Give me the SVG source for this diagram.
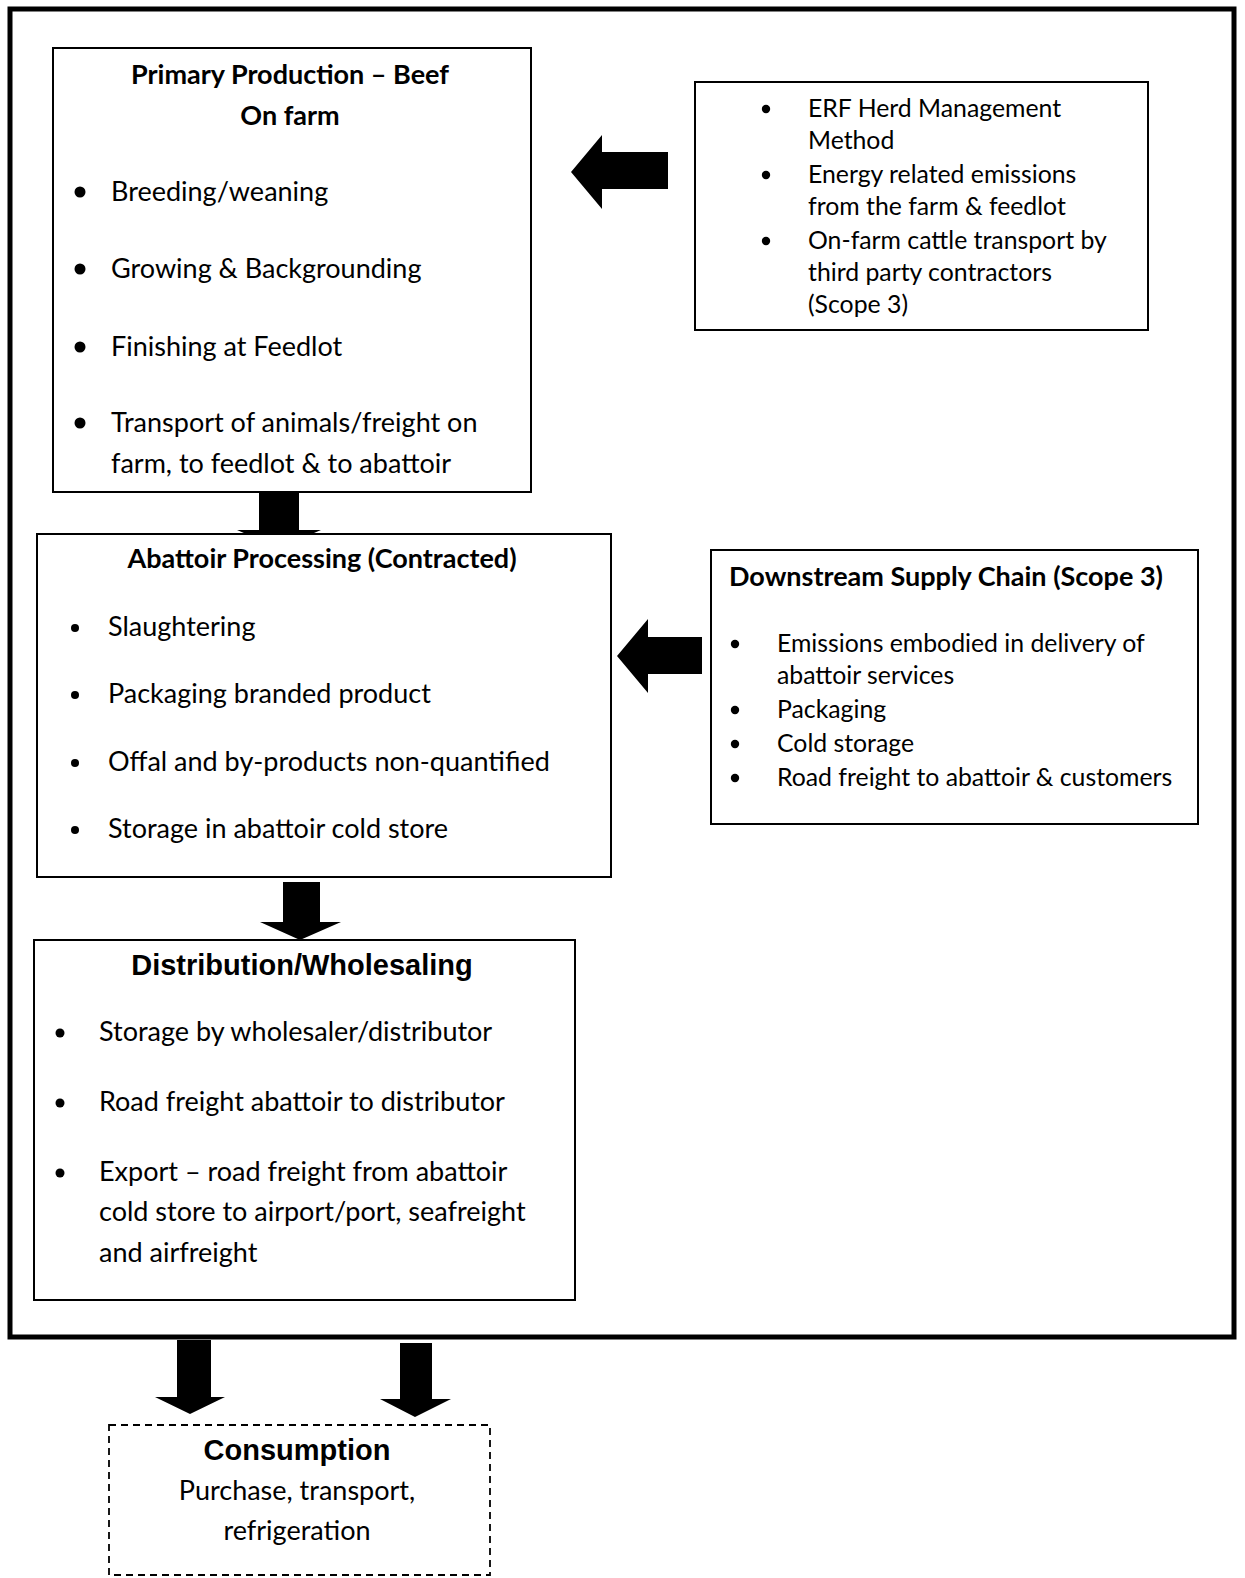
<svg xmlns="http://www.w3.org/2000/svg" width="1245" height="1578" viewBox="0 0 1245 1578">
<style>
.box{fill:#fff;stroke:#000;stroke-width:2}
.frame{fill:none;stroke:#000;stroke-width:5}
.dash{fill:#fff;stroke:#000;stroke-width:1.8;stroke-dasharray:7 5}
.t{font-family:Lato,"Liberation Sans",sans-serif;font-size:27px;fill:#000}
.h{font-family:Lato,"Liberation Sans",sans-serif;font-size:27px;font-weight:bold;fill:#000}
.ha{font-family:"Liberation Sans",Arial,sans-serif;font-size:29px;font-weight:bold;fill:#000}
.s{font-family:Lato,"Liberation Sans",sans-serif;font-size:24.8px;fill:#000}
.arrow{fill:#000;stroke:none}
</style>
<rect width="1245" height="1578" fill="#fff"/>
<rect class="frame" x="10" y="9" width="1224" height="1328"/>

<g id="connectors">
<polygon class="arrow" points="571,172 602,135 602,152 668,152 668,189 602,189 602,209"/>
<polygon class="arrow" points="617,656 648,619 648,637 702,637 702,674 648,674 648,693"/>
<polygon class="arrow" points="259,492 299,492 299,530 321,530 279,548 237,530 259,530"/>
<polygon class="arrow" points="283,882 320,882 320,922 341,922 300,940 260,922 283,922"/>
<polygon class="arrow" points="177,1340 211,1340 211,1397 225,1397 190,1414 155,1397 177,1397"/>
<polygon class="arrow" points="400,1343 432,1343 432,1399 451,1399 415,1417 380,1399 400,1399"/>
</g>

<g id="primary">
<rect class="box" x="53" y="48" width="478" height="444"/>
<text class="h" x="290" y="84" text-anchor="middle">Primary Production – Beef</text>
<text class="h" x="290" y="125" text-anchor="middle">On farm</text>
<circle cx="80" cy="192" r="5.5"/><text class="t" x="111" y="201">Breeding/weaning</text>
<circle cx="80" cy="269" r="5.5"/><text class="t" x="111" y="278">Growing &amp; Backgrounding</text>
<circle cx="80" cy="347" r="5.5"/><text class="t" x="111" y="356">Finishing at Feedlot</text>
<circle cx="80" cy="423" r="5.5"/><text class="t" x="111" y="432">Transport of animals/freight on</text>
<text class="t" x="111" y="473">farm, to feedlot &amp; to abattoir</text>
</g>

<g id="erf">
<rect class="box" x="695" y="82" width="453" height="248"/>
<circle cx="766" cy="109" r="4.2"/><text class="s" x="808" y="117">ERF Herd Management</text>
<text class="s" x="808" y="149">Method</text>
<circle cx="766" cy="175" r="4.2"/><text class="s" x="808" y="183">Energy related emissions</text>
<text class="s" x="808" y="215">from the farm &amp; feedlot</text>
<circle cx="766" cy="241" r="4.2"/><text class="s" x="808" y="249">On-farm cattle transport by</text>
<text class="s" x="808" y="281">third party contractors</text>
<text class="s" x="808" y="313">(Scope 3)</text>
</g>

<g id="abattoir">
<rect class="box" x="37" y="534" width="574" height="343"/>
<text class="h" x="322" y="568" text-anchor="middle">Abattoir Processing (Contracted)</text>
<circle cx="75" cy="628" r="4"/><text class="t" x="108" y="636">Slaughtering</text>
<circle cx="75" cy="695" r="4"/><text class="t" x="108" y="703">Packaging branded product</text>
<circle cx="75" cy="763" r="4"/><text class="t" x="108" y="771">Offal and by-products non-quantified</text>
<circle cx="75" cy="830" r="4"/><text class="t" x="108" y="838">Storage in abattoir cold store</text>
</g>

<g id="downstream">
<rect class="box" x="711" y="550" width="487" height="274"/>
<text class="h" x="729" y="586">Downstream Supply Chain (Scope 3)</text>
<circle cx="735" cy="644" r="4.2"/><text class="s" x="777" y="652">Emissions embodied in delivery of</text>
<text class="s" x="777" y="684">abattoir services</text>
<circle cx="735" cy="710" r="4.2"/><text class="s" x="777" y="718">Packaging</text>
<circle cx="735" cy="744" r="4.2"/><text class="s" x="777" y="752">Cold storage</text>
<circle cx="735" cy="778" r="4.2"/><text class="s" x="777" y="786">Road freight to abattoir &amp; customers</text>
</g>

<g id="distribution">
<rect class="box" x="34" y="940" width="541" height="360"/>
<text class="ha" x="302" y="975" text-anchor="middle">Distribution/Wholesaling</text>
<circle cx="60" cy="1033" r="4.5"/><text class="t" x="99" y="1041">Storage by wholesaler/distributor</text>
<circle cx="60" cy="1103" r="4.5"/><text class="t" x="99" y="1111">Road freight abattoir to distributor</text>
<circle cx="60" cy="1173" r="4.5"/><text class="t" x="99" y="1181">Export – road freight from abattoir</text>
<text class="t" x="99" y="1221">cold store to airport/port, seafreight</text>
<text class="t" x="99" y="1262">and airfreight</text>
</g>

<g id="consumption">
<rect class="dash" x="109" y="1425" width="381" height="150"/>
<text class="ha" x="297" y="1460" text-anchor="middle">Consumption</text>
<text class="t" x="297" y="1500" text-anchor="middle">Purchase, transport,</text>
<text class="t" x="297" y="1540" text-anchor="middle">refrigeration</text>
</g>
</svg>
